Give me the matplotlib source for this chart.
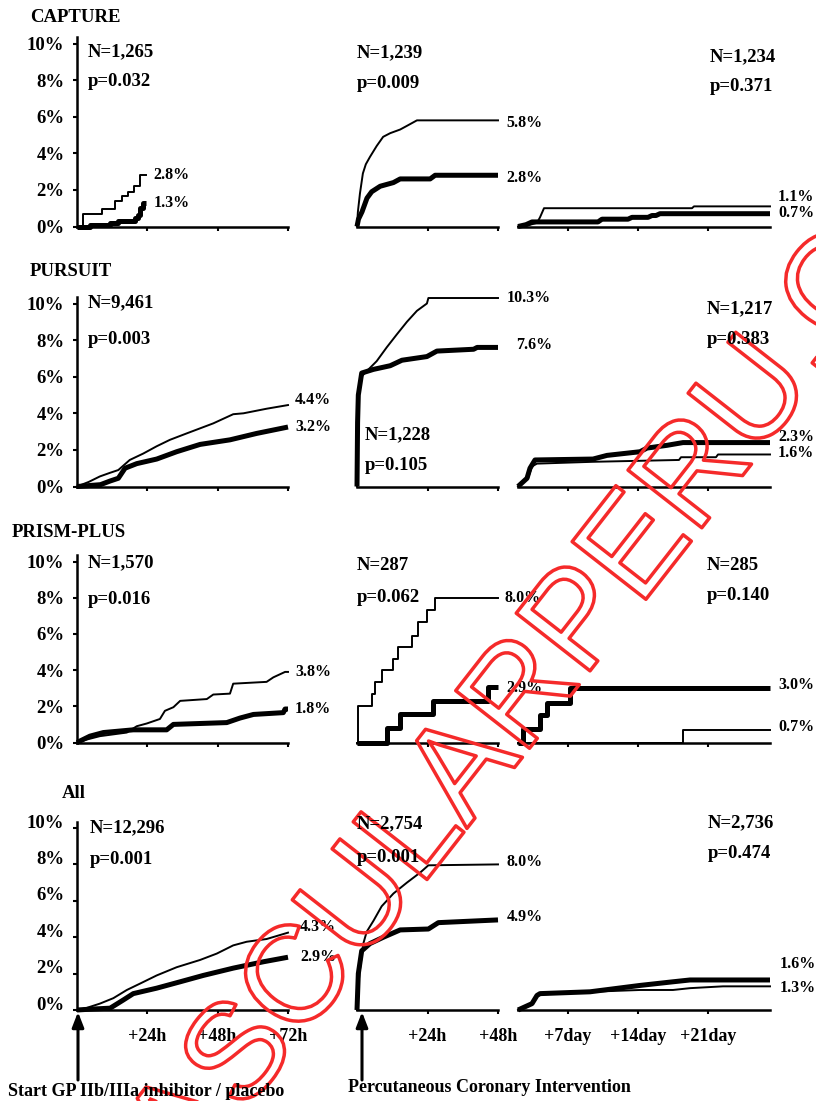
import matplotlib
matplotlib.use('Agg')
from matplotlib import pyplot as plt
from matplotlib import patheffects as pe
from matplotlib.transforms import ScaledTranslation

# data ---------------------------------------------------------------------------------------------
trials = ['CAPTURE', 'PURSUIT', 'PRISM-PLUS', 'All']

# panel 1: from start of drug (hours), panel 2: after PCI (hours), panel 3: after PCI (days)
cap_pre_thin_t = [0, 2.2, 8.4, 13, 15.2, 17.5, 19.5, 21.5, 23.5]
cap_pre_thin = [0, 0.7, 0.95, 1.4, 1.65, 1.9, 2.2, 2.8, 2.8]
cap_pre_thick_t = [0, 4.4, 11.3, 14, 19.8, 20.8, 21.5, 22.6, 23.5]
cap_pre_thick = [0, 0.1, 0.2, 0.3, 0.45, 0.65, 1.0, 1.3, 1.3]
cap_pci_thin_t = [0, 0.3, 1, 2, 3, 4.4, 6.7, 8.9, 11.3, 14.7, 17, 20.4, 48]
cap_pci_thin = [0, 0.8, 1.8, 2.9, 3.4, 3.8, 4.4, 4.9, 5.1, 5.3, 5.5, 5.8, 5.8]
cap_pci_thick_t = [0, 0.5, 1.7, 3.4, 5, 7.9, 12.4, 14.7, 24.9, 26.6, 48]
cap_pci_thick = [0, 0.4, 0.8, 1.55, 1.9, 2.2, 2.4, 2.6, 2.6, 2.8, 2.8]
cap_late_thin_t = [2, 2.9, 3.9, 4.2, 4.6, 19.4, 19.6, 27.2]
cap_late_thin = [0, 0.05, 0.2, 0.5, 1.0, 1.0, 1.1, 1.1]
cap_late_thick_t = [2, 2.8, 3.4, 10.0, 10.4, 13.0, 13.4, 15.0, 15.4, 15.8, 16.2, 27.2]
cap_late_thick = [0, 0.1, 0.25, 0.25, 0.4, 0.4, 0.5, 0.5, 0.6, 0.6, 0.7, 0.7]

pur_pre_thin_t = [0, 4, 7.8, 11.3, 14.1, 18, 22.6, 27.2, 31.7, 37.4, 46.5, 53.3, 56.8, 64.7, 72]
pur_pre_thin = [0, 0.25, 0.55, 0.75, 0.9, 1.45, 1.8, 2.2, 2.55, 2.9, 3.45, 3.95, 4.0, 4.25, 4.45]
pur_pre_thick_t = [0, 8, 11.3, 14.1, 16.4, 20.4, 27.2, 34, 42, 52.2, 61.3, 72]
pur_pre_thick = [0, 0.1, 0.3, 0.45, 1.0, 1.25, 1.5, 1.9, 2.3, 2.55, 2.9, 3.25]
pur_pci_thin_t = [0, 0.3, 0.8, 1.5, 3.3, 6.7, 10.1, 13.5, 17, 20.4, 23.8, 24.3, 48]
pur_pci_thin = [0, 3.0, 5.5, 6.0, 6.3, 6.85, 7.6, 8.3, 9.0, 9.6, 10.0, 10.3, 10.3]
pur_pci_thick_t = [0, 0.2, 0.45, 1.6, 5.6, 11.3, 15.3, 23.8, 27.2, 39.7, 40.9, 48]
pur_pci_thick = [0, 3.5, 5.0, 6.2, 6.4, 6.6, 6.9, 7.1, 7.4, 7.5, 7.6, 7.6]
pur_late_thin_t = [2, 3.0, 3.4, 3.9, 9.5, 18.1, 18.3, 21.8, 22.0, 27.2]
pur_late_thin = [0, 0.45, 1.1, 1.25, 1.35, 1.45, 1.6, 1.6, 1.75, 1.75]
pur_late_thick_t = [2, 2.9, 3.2, 3.7, 9.5, 10.9, 14.2, 14.9, 16.9, 18.5, 27.2]
pur_late_thick = [0, 0.45, 1.0, 1.45, 1.5, 1.7, 1.9, 2.1, 2.25, 2.4, 2.4]

pri_pre_thin_t = [0, 3, 7.8, 17, 20.4, 23.8, 28.3, 30, 32.9, 35.2, 44.3, 46.5, 52.2, 53.3, 64.7, 67, 71, 72]
pri_pre_thin = [0, 0.15, 0.35, 0.55, 0.9, 1.05, 1.3, 1.75, 1.95, 2.3, 2.4, 2.65, 2.7, 3.25, 3.35, 3.6, 3.9, 3.9]
pri_pre_thick_t = [0, 4.4, 9, 19.2, 30.6, 32.9, 51.1, 55.6, 60.2, 70.4, 71, 72]
pri_pre_thick = [0, 0.35, 0.55, 0.7, 0.7, 1.0, 1.1, 1.35, 1.55, 1.65, 1.85, 1.85]
pri_pci_thin_t = [0, 0.45, 5.0, 6.1, 8.4, 12.4, 14.1, 18.7, 20.9, 23.8, 26.6, 48]
pri_pci_thin = [0, 2.0, 2.7, 3.35, 4.0, 4.6, 5.25, 5.9, 6.65, 7.3, 8.0, 8.0]
pri_pci_thick_t = [0, 10.1, 14.7, 26, 44.5, 48]
pri_pci_thick = [0, 0.8, 1.6, 2.3, 3.05, 3.05]
pri_late_thin_t = [2, 18.5, 27.2]
pri_late_thin = [0, 0.7, 0.7]
pri_late_thick_t = [2, 2.5, 4.2, 4.9, 7.2, 27.2]
pri_late_thick = [0, 0.75, 1.5, 2.2, 3.0, 3.0]

all_pre_thin_t = [0, 3, 7.8, 12.4, 17, 21.5, 27.2, 34, 42, 47.7, 53.3, 57.9, 64.7, 72]
all_pre_thin = [0, 0.1, 0.35, 0.65, 1.1, 1.45, 1.9, 2.35, 2.75, 3.1, 3.55, 3.75, 3.9, 4.25]
all_pre_thick_t = [0, 5, 11.3, 15.8, 19.2, 27.2, 35.2, 43.1, 53.3, 63.6, 72]
all_pre_thick = [0, 0.05, 0.1, 0.55, 0.9, 1.2, 1.55, 1.9, 2.3, 2.65, 2.9]
all_pci_thin_t = [0, 0.2, 1.0, 2.15, 3.3, 5.6, 8.4, 12.4, 17, 21.5, 24.3, 48]
all_pci_thin = [0, 1.0, 2.2, 3.65, 4.3, 4.9, 5.7, 6.4, 7.0, 7.55, 7.95, 8.0]
all_pci_thick_t = [0, 0.45, 1.6, 4.4, 9, 14.7, 24.3, 27.7, 48]
all_pci_thick = [0, 2.0, 3.25, 3.65, 4.0, 4.4, 4.45, 4.8, 4.95]
all_late_thin_t = [2, 3.4, 3.9, 4.2, 9.2, 14.2, 17.5, 19.2, 22.5, 27.2]
all_late_thin = [0, 0.3, 0.75, 0.85, 1.0, 1.1, 1.1, 1.2, 1.3, 1.3]
all_late_thick_t = [2, 3.4, 3.9, 4.2, 9.2, 14.2, 17.5, 19.2, 27.2]
all_late_thick = [0, 0.35, 0.8, 0.9, 1.0, 1.35, 1.55, 1.65, 1.65]

curves = [
    [(cap_pre_thin_t, cap_pre_thin, cap_pre_thick_t, cap_pre_thick),
     (cap_pci_thin_t, cap_pci_thin, cap_pci_thick_t, cap_pci_thick),
     (cap_late_thin_t, cap_late_thin, cap_late_thick_t, cap_late_thick)],
    [(pur_pre_thin_t, pur_pre_thin, pur_pre_thick_t, pur_pre_thick),
     (pur_pci_thin_t, pur_pci_thin, pur_pci_thick_t, pur_pci_thick),
     (pur_late_thin_t, pur_late_thin, pur_late_thick_t, pur_late_thick)],
    [(pri_pre_thin_t, pri_pre_thin, pri_pre_thick_t, pri_pre_thick),
     (pri_pci_thin_t, pri_pci_thin, pri_pci_thick_t, pri_pci_thick),
     (pri_late_thin_t, pri_late_thin, pri_late_thick_t, pri_late_thick)],
    [(all_pre_thin_t, all_pre_thin, all_pre_thick_t, all_pre_thick),
     (all_pci_thin_t, all_pci_thin, all_pci_thick_t, all_pci_thick),
     (all_late_thin_t, all_late_thin, all_late_thick_t, all_late_thick)],
]

end_labels = [
    [('2.8%', '1.3%'), ('5.8%', '2.8%'), ('1.1%', '0.7%')],
    [('4.4%', '3.2%'), ('10.3%', '7.6%'), ('1.6%', '2.3%')],
    [('3.8%', '1.8%'), ('8.0%', '2.9%'), ('0.7%', '3.0%')],
    [('4.3%', '2.9%'), ('8.0%', '4.9%'), ('1.3%', '1.6%')],
]

n_texts = [
    ['N=1,265', 'N=1,239', 'N=1,234'],
    ['N=9,461', 'N=1,228', 'N=1,217'],
    ['N=1,570', 'N=287', 'N=285'],
    ['N=12,296', 'N=2,754', 'N=2,736'],
]
p_texts = [
    ['p=0.032', 'p=0.009', 'p=0.371'],
    ['p=0.003', 'p=0.105', 'p=0.383'],
    ['p=0.016', 'p=0.062', 'p=0.140'],
    ['p=0.001', 'p=0.001', 'p=0.474'],
]

y_ticks = [0, 2, 4, 6, 8, 10]
x_ticks = [[24, 48, 72], [24, 48], [7, 14, 21]]
x_tick_labels = [['+24h', '+48h', '+72h'], ['+24h', '+48h'], ['+7day', '+14day', '+21day']]
x_limits = [(0, 72), (0, 48), (2, 27.2)]
# --------------------------------------------------------------------------------------------------


# layout (pixels) ----------------------------------------------------------------------------------
W, H = 816, 1101
ROW_BASE = [226.5, 486.5, 742.5, 1010]
ROW_SPAN = [183, 183, 181, 182]
PANEL_X = [(77, 288), (357, 498), (518, 770)]
TITLE_POS = [(30, 17), (30, 272), (12, 533), (62, 793)]
NP_POS = [
    [(88, 52, 82), (357, 53, 83), (710, 57, 87)],
    [(88, 303, 339), (365, 435, 466), (707, 309, 340)],
    [(88, 563, 600), (357, 566, 598), (707, 566, 596)],
    [(90, 828, 860), (357, 824, 857), (708, 823, 853)],
]
# (thin dx, dy), (thick dx, dy) in pixels, dy up
LABEL_OFF = [
    [((8, 0), (8, 0)), ((8, -3), (8, -3)), ((8, 9), (8, 1))],
    [((7, 5), (7, 0)), ((9, 0), (18, 2)), ((8, 1), (8, 6))],
    [((7, 0), (7, 0)), ((6, 0), (8, -1)), ((8, 3), (8, 3))],
    [((12, 6), (12, 0)), ((8, 2), (9, 3)), ((10, -2), (10, 16))],
]
STEP_PANELS = {(0, 0), (2, 1), (2, 2)}
BIG = 13.5
SMALL = 11.5
# --------------------------------------------------------------------------------------------------

plt.rcParams['font.family'] = ['Liberation Serif', 'DejaVu Serif']
plt.rcParams['font.weight'] = 'bold'

fig = plt.figure(figsize=(W / 100, H / 100), dpi=100)


def ftext(x, y, s, **kw):
    kw.setdefault('va', 'center')
    kw.setdefault('fontsize', BIG)
    return fig.text(x / W, 1 - y / H, s, **kw)


def make_panel(row, col):
    x0, x1 = PANEL_X[col]
    base, span = ROW_BASE[row], ROW_SPAN[row]
    ax = fig.add_axes([x0 / W, 1 - base / H, (x1 - x0) / W, span / H])
    ax.patch.set_visible(False)
    ax.set_xlim(*x_limits[col])
    ax.set_ylim(0, 10)
    for side in ('top', 'right'):
        ax.spines[side].set_visible(False)
    ax.spines['bottom'].set_linewidth(1.8)
    if col == 0:
        ax.spines['left'].set_linewidth(1.8)
        ax.spines['left'].set_bounds(0, 10.35)
        ax.set_yticks(y_ticks)
        ax.set_yticklabels([f'{v}%' for v in y_ticks], fontsize=BIG, fontweight='bold')
        ax.tick_params(axis='y', direction='out', length=3, width=1.5, pad=6)
        if row == 3:
            shift = ScaledTranslation(0, 7 / 100, fig.dpi_scale_trans)
            for lab in ax.get_yticklabels():
                lab.set_transform(lab.get_transform() + shift)
    else:
        ax.spines['left'].set_visible(False)
        ax.set_yticks([])
    ax.set_xticks(x_ticks[col])
    if row == 3:
        ax.set_xticklabels(x_tick_labels[col], fontsize=13, fontweight='bold')
    else:
        ax.set_xticklabels([])
    ax.tick_params(axis='x', direction='out', length=3, width=1.5, pad=10)
    return ax


axes = []
for r in range(4):
    ftext(*TITLE_POS[r], trials[r], ha='left')
    row_axes = []
    for c in range(3):
        ax = make_panel(r, c)
        row_axes.append(ax)
        tt, tv, kt, kv = curves[r][c]
        style = 'steps-post' if (r, c) in STEP_PANELS else 'default'
        ax.plot(tt, tv, color='black', lw=1.4, drawstyle=style, clip_on=False, zorder=3)
        ax.plot(kt, kv, color='black', lw=3.6, drawstyle=style, clip_on=False, zorder=4,
                solid_capstyle='butt')
        (tdx, tdy), (kdx, kdy) = LABEL_OFF[r][c]
        ax.annotate(end_labels[r][c][0], xy=(tt[-1], tv[-1]), xytext=(tdx, tdy),
                    textcoords='offset pixels', va='center', ha='left', fontsize=SMALL,
                    annotation_clip=False)
        ax.annotate(end_labels[r][c][1], xy=(kt[-1], kv[-1]), xytext=(kdx, kdy),
                    textcoords='offset pixels', va='center', ha='left', fontsize=SMALL,
                    annotation_clip=False)
        px, ny, py = NP_POS[r][c]
        ftext(px, ny, n_texts[r][c], ha='left')
        ftext(px, py, p_texts[r][c], ha='left')
    axes.append(row_axes)

# event arrows
for c, shift_px in ((0, 1), (1, 5)):
    ax = axes[3][c]
    ax.annotate('', xy=(x_limits[c][0], 0), xytext=(0, -68), textcoords='offset pixels',
                xycoords=ax.transData + ScaledTranslation(shift_px / 100, -2 / 100, fig.dpi_scale_trans),
                arrowprops=dict(arrowstyle='-|>,head_length=0.9,head_width=0.35', lw=2.2,
                                color='black', shrinkA=0, shrinkB=0),
                annotation_clip=False)

ftext(8, 1092, 'Start GP IIb/IIIa inhibitor / placebo', ha='left', fontsize=13)
ftext(348, 1088, 'Percutaneous Coronary Intervention', ha='left', fontsize=13)

# watermark
fig.text(586 / W, 1 - 676 / H, 'VASCULARPERU.COM', rotation=52, rotation_mode='anchor',
         ha='center', va='baseline', fontsize=98, family='Liberation Sans', fontweight='normal',
         color='none', path_effects=[pe.Stroke(linewidth=2.5, foreground='#f52a2a')], zorder=0)

fig.savefig('out.png', dpi=100)
